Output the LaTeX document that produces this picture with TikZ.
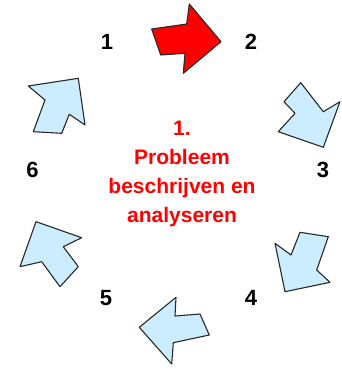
\documentclass[tikz,border=0pt]{standalone}
\usepackage{fontspec}
\setmainfont{Liberation Sans}
\usetikzlibrary{positioning}
\definecolor{CycleBlue}{RGB}{204,236,255}
\definecolor{CycleRed}{RGB}{255,0,0}
\definecolor{EdgeGray}{RGB}{40,40,40}

\begin{document}
\begin{tikzpicture}[x=1pt,y=-1pt]
  \useasboundingbox (0,0) rectangle (342,369);
  \tikzset{
    blockarrow/.style={draw=EdgeGray,line width=1.1pt,line join=round,fill=CycleBlue},
    steplabel/.style={font=\fontsize{22}{26}\selectfont\bfseries,anchor=base,inner sep=0pt}
  }
  % red arrow 1 -> 2
  \draw[blockarrow,fill=CycleRed] (151.7,29) -- (186.7,24) -- (189.3,4) -- (221,41.7)
    -- (183.3,73.3) -- (185,53.3) -- (160.7,55) -- cycle;
  % 2 -> 3
  \draw[blockarrow] (300.7,82.7) -- (323.3,111.7) -- (340,101.7) -- (323.3,147.3)
    -- (278.3,131.7) -- (295,113.3) -- (284,101.7) -- cycle;
  % 3 -> 4
  \draw[blockarrow] (300,232.3) -- (328.3,236.7) -- (316.7,270) -- (330,282.3)
    -- (285,291.7) -- (275,243.3) -- (291,255) -- cycle;
  % 4 -> 5
  \draw[blockarrow] (200,314) -- (209.3,335) -- (173.3,342.7) -- (171.7,364)
    -- (139.3,327.3) -- (176,297.3) -- (175,316) -- cycle;
  % 5 -> 6
  \draw[blockarrow] (60,286.7) -- (78.3,266.7) -- (63.3,246.7) -- (81.7,237.7)
    -- (36,221.7) -- (20,266.7) -- (41.7,261.7) -- cycle;
  % 6 -> 1
  \draw[blockarrow] (33.3,131.7) -- (61.7,133.3) -- (69.3,114.3) -- (85,125)
    -- (78.3,78.3) -- (28.3,86) -- (45,100) -- cycle;

  \foreach \n/\x/\y in {1/107/49.3, 2/251/49.3, 3/323/177, 4/251/305, 5/106/305, 6/32.5/177}
    \node[steplabel] (step\n) at (\x,\y) {\n};

  % base anchor sits on the last line
  \node[CycleRed,font=\fontsize{21}{29}\selectfont\bfseries,align=center,anchor=base,inner sep=0pt]
    (task) at (182,222) {1.\\Probleem\\beschrijven en\\analyseren};
\end{tikzpicture}
\end{document}
